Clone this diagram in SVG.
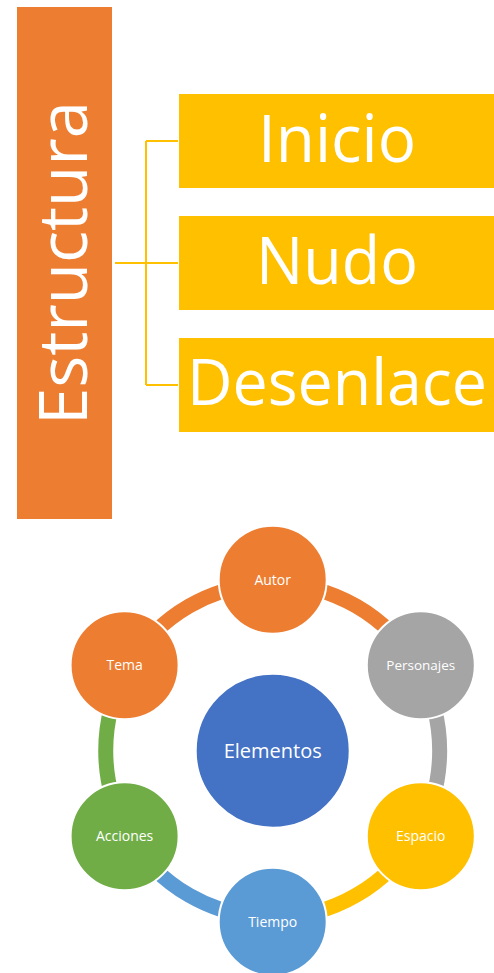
<svg xmlns="http://www.w3.org/2000/svg" width="494" height="973" viewBox="0 0 494 973">
<style>
.big{font-family:"Open Sans","Liberation Sans",sans-serif;fill:#fff;text-anchor:middle}
.lbl{font-family:"Open Sans","Liberation Sans",sans-serif;fill:#fff;text-anchor:middle;font-size:14px}
.node{stroke:#fff;stroke-width:2}
.arc{fill:none;stroke-width:15}
.br{fill:none;stroke:#FFC000;stroke-width:2}
</style>
<rect width="494" height="973" fill="#fff"/>
<g id="estructura">
<rect x="17" y="7" width="95" height="512" fill="#ED7D31"/>
<text class="big" font-size="68" transform="translate(87,263) rotate(-90)" textLength="324" lengthAdjust="spacingAndGlyphs">Estructura</text>
</g>
<g id="connectors">
<path class="br" d="M115,263H146M146,141V385M146,141H178M146,263H178M146,385H178"/>
<path class="arc" stroke="#ED7D31" d="M272.7,583.7A167,167 0 0 1 417.3,667.2"/>
<path class="arc" stroke="#A5A5A5" d="M417.3,667.2A167,167 0 0 1 417.3,834.2"/>
<path class="arc" stroke="#FFC000" d="M417.3,834.2A167,167 0 0 1 272.7,917.7"/>
<path class="arc" stroke="#5B9BD5" d="M272.7,917.7A167,167 0 0 1 128.1,834.2"/>
<path class="arc" stroke="#70AD47" d="M128.1,834.2A167,167 0 0 1 128.1,667.2"/>
<path class="arc" stroke="#ED7D31" d="M128.1,667.2A167,167 0 0 1 272.7,583.7"/>
</g>
<g id="inicio">
<rect x="179" y="94" width="315" height="94" fill="#FFC000"/>
<text class="big" x="337" y="162" font-size="66" textLength="158" lengthAdjust="spacingAndGlyphs">Inicio</text>
</g>
<g id="nudo">
<rect x="179" y="216" width="315" height="94" fill="#FFC000"/>
<text class="big" x="337" y="284" font-size="66" textLength="162" lengthAdjust="spacingAndGlyphs">Nudo</text>
</g>
<g id="desenlace">
<rect x="179" y="338" width="315" height="94" fill="#FFC000"/>
<text class="big" x="337" y="405" font-size="64" textLength="300" lengthAdjust="spacingAndGlyphs">Desenlace</text>
</g>
<g id="elementos">
<circle class="node" cx="272.7" cy="750.7" r="77" fill="#4472C4"/>
<text class="big" x="272.7" y="757.5" font-size="20">Elementos</text>
</g>
<g id="autor">
<circle class="node" cx="272.7" cy="579.7" r="54" fill="#ED7D31"/>
<text class="lbl" x="272.7" y="585">Autor</text>
</g>
<g id="personajes">
<circle class="node" cx="420.8" cy="665.2" r="54" fill="#A5A5A5"/>
<text class="lbl" x="420.8" y="670.2" style="font-size:13.5px">Personajes</text>
</g>
<g id="espacio">
<circle class="node" cx="420.8" cy="836.2" r="54" fill="#FFC000"/>
<text class="lbl" x="420.8" y="841.2">Espacio</text>
</g>
<g id="tiempo">
<circle class="node" cx="272.7" cy="921.7" r="54" fill="#5B9BD5"/>
<text class="lbl" x="272.7" y="926.9">Tiempo</text>
</g>
<g id="acciones">
<circle class="node" cx="124.6" cy="836.2" r="54" fill="#70AD47"/>
<text class="lbl" x="124.6" y="841.2">Acciones</text>
</g>
<g id="tema">
<circle class="node" cx="124.6" cy="665.2" r="54" fill="#ED7D31"/>
<text class="lbl" x="124.6" y="670.2">Tema</text>
</g>
</svg>
